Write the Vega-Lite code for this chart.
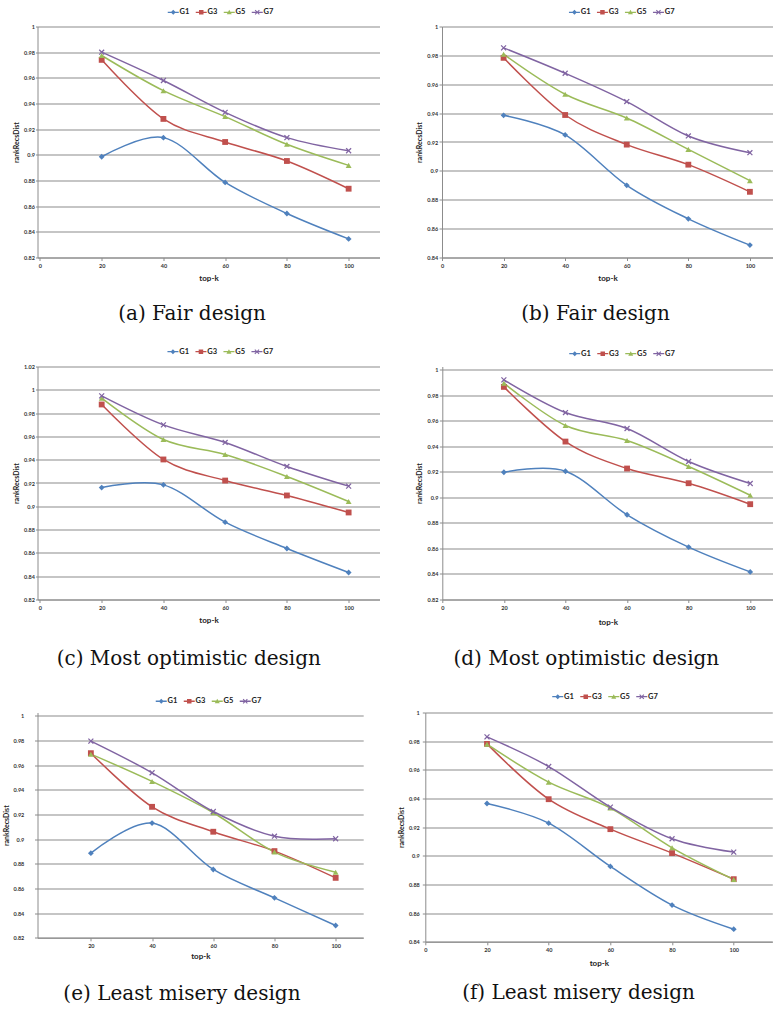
{
  "$schema": "https://vega.github.io/schema/vega-lite/v6.json",
  "padding": {"left": 1.5, "top": 7.5, "right": 0, "bottom": 0},
  "datasets": {
    "a": [
      {"k": 20, "s": "G1", "v": 0.8985}, {"k": 40, "s": "G1", "v": 0.9134}, {"k": 60, "s": "G1", "v": 0.8785}, {"k": 80, "s": "G1", "v": 0.8543}, {"k": 100, "s": "G1", "v": 0.8345},
      {"k": 20, "s": "G3", "v": 0.974}, {"k": 40, "s": "G3", "v": 0.928}, {"k": 60, "s": "G3", "v": 0.910}, {"k": 80, "s": "G3", "v": 0.8952}, {"k": 100, "s": "G3", "v": 0.8736},
      {"k": 20, "s": "G5", "v": 0.9774}, {"k": 40, "s": "G5", "v": 0.950}, {"k": 60, "s": "G5", "v": 0.9298}, {"k": 80, "s": "G5", "v": 0.9082}, {"k": 100, "s": "G5", "v": 0.8918},
      {"k": 20, "s": "G7", "v": 0.980}, {"k": 40, "s": "G7", "v": 0.9579}, {"k": 60, "s": "G7", "v": 0.9331}, {"k": 80, "s": "G7", "v": 0.9134}, {"k": 100, "s": "G7", "v": 0.9032}
    ],
    "b": [
      {"k": 20, "s": "G1", "v": 0.9385}, {"k": 40, "s": "G1", "v": 0.9249}, {"k": 60, "s": "G1", "v": 0.890}, {"k": 80, "s": "G1", "v": 0.8668}, {"k": 100, "s": "G1", "v": 0.8486},
      {"k": 20, "s": "G3", "v": 0.9783}, {"k": 40, "s": "G3", "v": 0.9387}, {"k": 60, "s": "G3", "v": 0.9182}, {"k": 80, "s": "G3", "v": 0.9043}, {"k": 100, "s": "G3", "v": 0.8855},
      {"k": 20, "s": "G5", "v": 0.9808}, {"k": 40, "s": "G5", "v": 0.9531}, {"k": 60, "s": "G5", "v": 0.9366}, {"k": 80, "s": "G5", "v": 0.9149}, {"k": 100, "s": "G5", "v": 0.8932},
      {"k": 20, "s": "G7", "v": 0.9852}, {"k": 40, "s": "G7", "v": 0.9676}, {"k": 60, "s": "G7", "v": 0.948}, {"k": 80, "s": "G7", "v": 0.9242}, {"k": 100, "s": "G7", "v": 0.9126}
    ],
    "c": [
      {"k": 20, "s": "G1", "v": 0.9161}, {"k": 40, "s": "G1", "v": 0.9184}, {"k": 60, "s": "G1", "v": 0.8864}, {"k": 80, "s": "G1", "v": 0.8638}, {"k": 100, "s": "G1", "v": 0.8432},
      {"k": 20, "s": "G3", "v": 0.9874}, {"k": 40, "s": "G3", "v": 0.9402}, {"k": 60, "s": "G3", "v": 0.9221}, {"k": 80, "s": "G3", "v": 0.9093}, {"k": 100, "s": "G3", "v": 0.8947},
      {"k": 20, "s": "G5", "v": 0.9928}, {"k": 40, "s": "G5", "v": 0.9573}, {"k": 60, "s": "G5", "v": 0.9445}, {"k": 80, "s": "G5", "v": 0.9256}, {"k": 100, "s": "G5", "v": 0.9041},
      {"k": 20, "s": "G7", "v": 0.9948}, {"k": 40, "s": "G7", "v": 0.9699}, {"k": 60, "s": "G7", "v": 0.9548}, {"k": 80, "s": "G7", "v": 0.9342}, {"k": 100, "s": "G7", "v": 0.9173}
    ],
    "d": [
      {"k": 20, "s": "G1", "v": 0.9196}, {"k": 40, "s": "G1", "v": 0.9204}, {"k": 60, "s": "G1", "v": 0.8863}, {"k": 80, "s": "G1", "v": 0.861}, {"k": 100, "s": "G1", "v": 0.8416},
      {"k": 20, "s": "G3", "v": 0.9864}, {"k": 40, "s": "G3", "v": 0.9436}, {"k": 60, "s": "G3", "v": 0.9225}, {"k": 80, "s": "G3", "v": 0.911}, {"k": 100, "s": "G3", "v": 0.8946},
      {"k": 20, "s": "G5", "v": 0.9893}, {"k": 40, "s": "G5", "v": 0.9562}, {"k": 60, "s": "G5", "v": 0.9444}, {"k": 80, "s": "G5", "v": 0.9241}, {"k": 100, "s": "G5", "v": 0.9016},
      {"k": 20, "s": "G7", "v": 0.9919}, {"k": 40, "s": "G7", "v": 0.9663}, {"k": 60, "s": "G7", "v": 0.9538}, {"k": 80, "s": "G7", "v": 0.928}, {"k": 100, "s": "G7", "v": 0.9108}
    ],
    "e": [
      {"k": 20, "s": "G1", "v": 0.8886}, {"k": 40, "s": "G1", "v": 0.913}, {"k": 60, "s": "G1", "v": 0.8754}, {"k": 80, "s": "G1", "v": 0.8524}, {"k": 100, "s": "G1", "v": 0.830},
      {"k": 20, "s": "G3", "v": 0.9697}, {"k": 40, "s": "G3", "v": 0.9262}, {"k": 60, "s": "G3", "v": 0.906}, {"k": 80, "s": "G3", "v": 0.8903}, {"k": 100, "s": "G3", "v": 0.8686},
      {"k": 20, "s": "G5", "v": 0.9689}, {"k": 40, "s": "G5", "v": 0.9468}, {"k": 60, "s": "G5", "v": 0.9214}, {"k": 80, "s": "G5", "v": 0.8895}, {"k": 100, "s": "G5", "v": 0.8732},
      {"k": 20, "s": "G7", "v": 0.9795}, {"k": 40, "s": "G7", "v": 0.9538}, {"k": 60, "s": "G7", "v": 0.9224}, {"k": 80, "s": "G7", "v": 0.9024}, {"k": 100, "s": "G7", "v": 0.9003}
    ],
    "f": [
      {"k": 20, "s": "G1", "v": 0.9365}, {"k": 40, "s": "G1", "v": 0.9228}, {"k": 60, "s": "G1", "v": 0.8926}, {"k": 80, "s": "G1", "v": 0.8656}, {"k": 100, "s": "G1", "v": 0.8488},
      {"k": 20, "s": "G3", "v": 0.9781}, {"k": 40, "s": "G3", "v": 0.9395}, {"k": 60, "s": "G3", "v": 0.9186}, {"k": 80, "s": "G3", "v": 0.9019}, {"k": 100, "s": "G3", "v": 0.8837},
      {"k": 20, "s": "G5", "v": 0.9779}, {"k": 40, "s": "G5", "v": 0.9514}, {"k": 60, "s": "G5", "v": 0.9333}, {"k": 80, "s": "G5", "v": 0.9056}, {"k": 100, "s": "G5", "v": 0.8835},
      {"k": 20, "s": "G7", "v": 0.983}, {"k": 40, "s": "G7", "v": 0.9623}, {"k": 60, "s": "G7", "v": 0.934}, {"k": 80, "s": "G7", "v": 0.9119}, {"k": 100, "s": "G7", "v": 0.9026}
    ]
  },
  "spacing": 23,
  "resolve": {"scale": {"color": "independent", "shape": "independent"}, "legend": {"color": "independent", "shape": "independent"}},
  "vconcat": [
    {
      "spacing": 35.5,
      "resolve": {"scale": {"color": "independent", "shape": "independent"}, "legend": {"color": "independent", "shape": "independent"}},
      "hconcat": [
        {
          "width": 342, "height": 231,
          "data": {"name": "a"},
          "title": {"text": "(a) Fair design", "dx": -16.5, "offset": 22},
          "encoding": {
            "x": {"field": "k", "type": "quantitative", "scale": {"domain": [-0.79, 110], "nice": false, "zero": false}, "axis": {"values": [0, 20, 40, 60, 80, 100], "title": "top-k", "titlePadding": 5}},
            "y": {"field": "v", "type": "quantitative", "scale": {"domain": [0.82, 1], "nice": false, "zero": false}, "axis": {"values": [0.82, 0.84, 0.86, 0.88, 0.9, 0.92, 0.94, 0.96, 0.98, 1], "format": ".2~f", "title": "rankRecsDist", "tickSize": 2, "labelPadding": 1, "titlePadding": 4.5}}
          },
          "layer": [
            {"mark": {"type": "line", "interpolate": "cardinal", "strokeWidth": 1.5}, "encoding": {"color": {"field": "s", "type": "nominal", "scale": {"domain": ["G1", "G3", "G5", "G7"], "range": ["#4F81BD", "#C0504D", "#9BBB59", "#8064A2"]}, "legend": null}}},
            {"mark": {"type": "point", "filled": true, "size": 34, "opacity": 1}, "encoding": {
              "color": {"field": "s", "type": "nominal", "scale": {"domain": ["G1", "G3", "G5", "G7"], "range": ["#4F81BD", "#C0504D", "#9BBB59", "#8064A2"]}, "legend": null},
              "shape": {"field": "s", "type": "nominal", "scale": {"domain": ["G1", "G3", "G5", "G7"], "range": ["diamond", "square", "triangle-up", "M-1,-0.7L-0.7,-1L0,-0.3L0.7,-1L1,-0.7L0.3,0L1,0.7L0.7,1L0,0.3L-0.7,1L-1,0.7L-0.3,0Z"]}, "legend": null}}},
            {"transform": [{"filter": "datum.k < -100"}], "mark": {"type": "point", "filled": true, "opacity": 1}, "encoding": {
              "color": {"field": "s", "type": "nominal", "scale": {"domain": ["G1", "G3", "G5", "G7"], "range": ["#4F81BD", "#C0504D", "#9BBB59", "#8064A2"]}, "legend": {"title": null, "orient": "none", "legendX": 132, "legendY": -18.3, "direction": "horizontal"}},
              "shape": {"field": "s", "type": "nominal", "scale": {"domain": ["G1", "G3", "G5", "G7"], "range": ["M-2.2,-0.28L2.2,-0.28L2.2,0.28L-2.2,0.28Z M0,-1L1,0L0,1L-1,0Z", "M-2.2,-0.28L2.2,-0.28L2.2,0.28L-2.2,0.28Z M-0.9,-0.9L0.9,-0.9L0.9,0.9L-0.9,0.9Z", "M-2.2,-0.28L2.2,-0.28L2.2,0.28L-2.2,0.28Z M0,-1L1,0.8L-1,0.8Z", "M-2.2,-0.28L2.2,-0.28L2.2,0.28L-2.2,0.28Z M-1,-0.7L-0.7,-1L0,-0.3L0.7,-1L1,-0.7L0.3,0L1,0.7L0.7,1L0,0.3L-0.7,1L-1,0.7L-0.3,0Z"]}, "legend": {"title": null, "orient": "none", "legendX": 132, "legendY": -18.3, "direction": "horizontal"}}}}
          ],
          "resolve": {"scale": {"color": "independent", "shape": "independent"}}
        },
        {
          "width": 331, "height": 231,
          "data": {"name": "b"},
          "title": {"text": "(b) Fair design", "dx": -12, "offset": 22},
          "encoding": {
            "x": {"field": "k", "type": "quantitative", "scale": {"domain": [0, 107.5], "nice": false, "zero": false}, "axis": {"values": [0, 20, 40, 60, 80, 100], "title": "top-k", "titlePadding": 5}},
            "y": {"field": "v", "type": "quantitative", "scale": {"domain": [0.84, 1], "nice": false, "zero": false}, "axis": {"values": [0.84, 0.86, 0.88, 0.9, 0.92, 0.94, 0.96, 0.98, 1], "format": ".2~f", "title": "rankRecsDist", "tickSize": 3, "labelPadding": 1.3, "titlePadding": 4.2}}
          },
          "layer": [
            {"mark": {"type": "line", "interpolate": "cardinal", "strokeWidth": 1.5}, "encoding": {"color": {"field": "s", "type": "nominal", "scale": {"domain": ["G1", "G3", "G5", "G7"], "range": ["#4F81BD", "#C0504D", "#9BBB59", "#8064A2"]}, "legend": null}}},
            {"mark": {"type": "point", "filled": true, "size": 34, "opacity": 1}, "encoding": {
              "color": {"field": "s", "type": "nominal", "scale": {"domain": ["G1", "G3", "G5", "G7"], "range": ["#4F81BD", "#C0504D", "#9BBB59", "#8064A2"]}, "legend": null},
              "shape": {"field": "s", "type": "nominal", "scale": {"domain": ["G1", "G3", "G5", "G7"], "range": ["diamond", "square", "triangle-up", "M-1,-0.7L-0.7,-1L0,-0.3L0.7,-1L1,-0.7L0.3,0L1,0.7L0.7,1L0,0.3L-0.7,1L-1,0.7L-0.3,0Z"]}, "legend": null}}},
            {"transform": [{"filter": "datum.k < -100"}], "mark": {"type": "point", "filled": true, "opacity": 1}, "encoding": {
              "color": {"field": "s", "type": "nominal", "scale": {"domain": ["G1", "G3", "G5", "G7"], "range": ["#4F81BD", "#C0504D", "#9BBB59", "#8064A2"]}, "legend": {"title": null, "orient": "none", "legendX": 128.7, "legendY": -18.3, "direction": "horizontal"}},
              "shape": {"field": "s", "type": "nominal", "scale": {"domain": ["G1", "G3", "G5", "G7"], "range": ["M-2.2,-0.28L2.2,-0.28L2.2,0.28L-2.2,0.28Z M0,-1L1,0L0,1L-1,0Z", "M-2.2,-0.28L2.2,-0.28L2.2,0.28L-2.2,0.28Z M-0.9,-0.9L0.9,-0.9L0.9,0.9L-0.9,0.9Z", "M-2.2,-0.28L2.2,-0.28L2.2,0.28L-2.2,0.28Z M0,-1L1,0.8L-1,0.8Z", "M-2.2,-0.28L2.2,-0.28L2.2,0.28L-2.2,0.28Z M-1,-0.7L-0.7,-1L0,-0.3L0.7,-1L1,-0.7L0.3,0L1,0.7L0.7,1L0,0.3L-0.7,1L-1,0.7L-0.3,0Z"]}, "legend": {"title": null, "orient": "none", "legendX": 128.7, "legendY": -18.3, "direction": "horizontal"}}}}
          ],
          "resolve": {"scale": {"color": "independent", "shape": "independent"}}
        }
      ]
    },
    {
      "spacing": 35.8,
      "resolve": {"scale": {"color": "independent", "shape": "independent"}, "legend": {"color": "independent", "shape": "independent"}},
      "hconcat": [
        {
          "width": 342, "height": 233,
          "data": {"name": "c"},
          "title": {"text": "(c) Most optimistic design", "dx": -19.7, "offset": 24.5},
          "encoding": {
            "x": {"field": "k", "type": "quantitative", "scale": {"domain": [-0.79, 110], "nice": false, "zero": false}, "axis": {"values": [0, 20, 40, 60, 80, 100], "title": "top-k", "titlePadding": 5.5}},
            "y": {"field": "v", "type": "quantitative", "scale": {"domain": [0.82, 1.02], "nice": false, "zero": false}, "axis": {"values": [0.82, 0.84, 0.86, 0.88, 0.9, 0.92, 0.94, 0.96, 0.98, 1, 1.02], "format": ".2~f", "title": "rankRecsDist", "tickSize": 2, "labelPadding": 1, "titlePadding": 4.5}}
          },
          "layer": [
            {"mark": {"type": "line", "interpolate": "cardinal", "strokeWidth": 1.5}, "encoding": {"color": {"field": "s", "type": "nominal", "scale": {"domain": ["G1", "G3", "G5", "G7"], "range": ["#4F81BD", "#C0504D", "#9BBB59", "#8064A2"]}, "legend": null}}},
            {"mark": {"type": "point", "filled": true, "size": 34, "opacity": 1}, "encoding": {
              "color": {"field": "s", "type": "nominal", "scale": {"domain": ["G1", "G3", "G5", "G7"], "range": ["#4F81BD", "#C0504D", "#9BBB59", "#8064A2"]}, "legend": null},
              "shape": {"field": "s", "type": "nominal", "scale": {"domain": ["G1", "G3", "G5", "G7"], "range": ["diamond", "square", "triangle-up", "M-1,-0.7L-0.7,-1L0,-0.3L0.7,-1L1,-0.7L0.3,0L1,0.7L0.7,1L0,0.3L-0.7,1L-1,0.7L-0.3,0Z"]}, "legend": null}}},
            {"transform": [{"filter": "datum.k < -100"}], "mark": {"type": "point", "filled": true, "opacity": 1}, "encoding": {
              "color": {"field": "s", "type": "nominal", "scale": {"domain": ["G1", "G3", "G5", "G7"], "range": ["#4F81BD", "#C0504D", "#9BBB59", "#8064A2"]}, "legend": {"title": null, "orient": "none", "legendX": 131.7, "legendY": -19, "direction": "horizontal"}},
              "shape": {"field": "s", "type": "nominal", "scale": {"domain": ["G1", "G3", "G5", "G7"], "range": ["M-2.2,-0.28L2.2,-0.28L2.2,0.28L-2.2,0.28Z M0,-1L1,0L0,1L-1,0Z", "M-2.2,-0.28L2.2,-0.28L2.2,0.28L-2.2,0.28Z M-0.9,-0.9L0.9,-0.9L0.9,0.9L-0.9,0.9Z", "M-2.2,-0.28L2.2,-0.28L2.2,0.28L-2.2,0.28Z M0,-1L1,0.8L-1,0.8Z", "M-2.2,-0.28L2.2,-0.28L2.2,0.28L-2.2,0.28Z M-1,-0.7L-0.7,-1L0,-0.3L0.7,-1L1,-0.7L0.3,0L1,0.7L0.7,1L0,0.3L-0.7,1L-1,0.7L-0.3,0Z"]}, "legend": {"title": null, "orient": "none", "legendX": 131.7, "legendY": -19, "direction": "horizontal"}}}}
          ],
          "resolve": {"scale": {"color": "independent", "shape": "independent"}}
        },
        {
          "width": 331, "height": 233,
          "data": {"name": "d"},
          "title": {"text": "(d) Most optimistic design", "dx": -21.5, "offset": 22.5},
          "encoding": {
            "x": {"field": "k", "type": "quantitative", "scale": {"domain": [0, 107.5], "nice": false, "zero": false}, "axis": {"values": [0, 20, 40, 60, 80, 100], "title": "top-k", "titlePadding": 7.5}},
            "y": {"field": "v", "type": "quantitative", "scale": {"domain": [0.82, 1.00235], "nice": false, "zero": false}, "axis": {"values": [0.82, 0.84, 0.86, 0.88, 0.9, 0.92, 0.94, 0.96, 0.98, 1], "format": ".2~f", "title": "rankRecsDist", "tickSize": 3, "labelPadding": 1.3, "titlePadding": 4.2}}
          },
          "layer": [
            {"mark": {"type": "line", "interpolate": "cardinal", "strokeWidth": 1.5}, "encoding": {"color": {"field": "s", "type": "nominal", "scale": {"domain": ["G1", "G3", "G5", "G7"], "range": ["#4F81BD", "#C0504D", "#9BBB59", "#8064A2"]}, "legend": null}}},
            {"mark": {"type": "point", "filled": true, "size": 34, "opacity": 1}, "encoding": {
              "color": {"field": "s", "type": "nominal", "scale": {"domain": ["G1", "G3", "G5", "G7"], "range": ["#4F81BD", "#C0504D", "#9BBB59", "#8064A2"]}, "legend": null},
              "shape": {"field": "s", "type": "nominal", "scale": {"domain": ["G1", "G3", "G5", "G7"], "range": ["diamond", "square", "triangle-up", "M-1,-0.7L-0.7,-1L0,-0.3L0.7,-1L1,-0.7L0.3,0L1,0.7L0.7,1L0,0.3L-0.7,1L-1,0.7L-0.3,0Z"]}, "legend": null}}},
            {"transform": [{"filter": "datum.k < -100"}], "mark": {"type": "point", "filled": true, "opacity": 1}, "encoding": {
              "color": {"field": "s", "type": "nominal", "scale": {"domain": ["G1", "G3", "G5", "G7"], "range": ["#4F81BD", "#C0504D", "#9BBB59", "#8064A2"]}, "legend": {"title": null, "orient": "none", "legendX": 128.7, "legendY": -17, "direction": "horizontal"}},
              "shape": {"field": "s", "type": "nominal", "scale": {"domain": ["G1", "G3", "G5", "G7"], "range": ["M-2.2,-0.28L2.2,-0.28L2.2,0.28L-2.2,0.28Z M0,-1L1,0L0,1L-1,0Z", "M-2.2,-0.28L2.2,-0.28L2.2,0.28L-2.2,0.28Z M-0.9,-0.9L0.9,-0.9L0.9,0.9L-0.9,0.9Z", "M-2.2,-0.28L2.2,-0.28L2.2,0.28L-2.2,0.28Z M0,-1L1,0.8L-1,0.8Z", "M-2.2,-0.28L2.2,-0.28L2.2,0.28L-2.2,0.28Z M-1,-0.7L-0.7,-1L0,-0.3L0.7,-1L1,-0.7L0.3,0L1,0.7L0.7,1L0,0.3L-0.7,1L-1,0.7L-0.3,0Z"]}, "legend": {"title": null, "orient": "none", "legendX": 128.7, "legendY": -17, "direction": "horizontal"}}}}
          ],
          "resolve": {"scale": {"color": "independent", "shape": "independent"}}
        }
      ]
    },
    {
      "spacing": 33.8,
      "resolve": {"scale": {"color": "independent", "shape": "independent"}, "legend": {"color": "independent", "shape": "independent"}},
      "hconcat": [
        {
          "width": 325.7, "height": 225.3,
          "data": {"name": "e"},
          "title": {"text": "(e) Least misery design", "dx": -18.4, "offset": 23},
          "encoding": {
            "x": {"field": "k", "type": "quantitative", "scale": {"domain": [2.56, 109], "nice": false, "zero": false}, "axis": {"values": [20, 40, 60, 80, 100], "title": "top-k", "titlePadding": 3.5}},
            "y": {"field": "v", "type": "quantitative", "scale": {"domain": [0.82, 1.00268], "nice": false, "zero": false}, "axis": {"values": [0.82, 0.84, 0.86, 0.88, 0.9, 0.92, 0.94, 0.96, 0.98, 1], "format": ".2~f", "title": "rankRecsDist", "tickSize": 3, "labelPadding": 10.7, "titlePadding": 3.8}}
          },
          "layer": [
            {"mark": {"type": "line", "interpolate": "cardinal", "strokeWidth": 1.5}, "encoding": {"color": {"field": "s", "type": "nominal", "scale": {"domain": ["G1", "G3", "G5", "G7"], "range": ["#4F81BD", "#C0504D", "#9BBB59", "#8064A2"]}, "legend": null}}},
            {"mark": {"type": "point", "filled": true, "size": 34, "opacity": 1}, "encoding": {
              "color": {"field": "s", "type": "nominal", "scale": {"domain": ["G1", "G3", "G5", "G7"], "range": ["#4F81BD", "#C0504D", "#9BBB59", "#8064A2"]}, "legend": null},
              "shape": {"field": "s", "type": "nominal", "scale": {"domain": ["G1", "G3", "G5", "G7"], "range": ["diamond", "square", "triangle-up", "M-1,-0.7L-0.7,-1L0,-0.3L0.7,-1L1,-0.7L0.3,0L1,0.7L0.7,1L0,0.3L-0.7,1L-1,0.7L-0.3,0Z"]}, "legend": null}}},
            {"transform": [{"filter": "datum.k < -100"}], "mark": {"type": "point", "filled": true, "opacity": 1}, "encoding": {
              "color": {"field": "s", "type": "nominal", "scale": {"domain": ["G1", "G3", "G5", "G7"], "range": ["#4F81BD", "#C0504D", "#9BBB59", "#8064A2"]}, "legend": {"title": null, "orient": "none", "legendX": 120, "legendY": -15.4, "direction": "horizontal"}},
              "shape": {"field": "s", "type": "nominal", "scale": {"domain": ["G1", "G3", "G5", "G7"], "range": ["M-2.2,-0.28L2.2,-0.28L2.2,0.28L-2.2,0.28Z M0,-1L1,0L0,1L-1,0Z", "M-2.2,-0.28L2.2,-0.28L2.2,0.28L-2.2,0.28Z M-0.9,-0.9L0.9,-0.9L0.9,0.9L-0.9,0.9Z", "M-2.2,-0.28L2.2,-0.28L2.2,0.28L-2.2,0.28Z M0,-1L1,0.8L-1,0.8Z", "M-2.2,-0.28L2.2,-0.28L2.2,0.28L-2.2,0.28Z M-1,-0.7L-0.7,-1L0,-0.3L0.7,-1L1,-0.7L0.3,0L1,0.7L0.7,1L0,0.3L-0.7,1L-1,0.7L-0.3,0Z"]}, "legend": {"title": null, "orient": "none", "legendX": 120, "legendY": -15.4, "direction": "horizontal"}}}}
          ],
          "resolve": {"scale": {"color": "independent", "shape": "independent"}}
        },
        {
          "width": 347, "height": 229.3,
          "data": {"name": "f"},
          "title": {"text": "(f) Least misery design", "dx": -20.3, "offset": 16},
          "encoding": {
            "x": {"field": "k", "type": "quantitative", "scale": {"domain": [0, 112.5], "nice": false, "zero": false}, "axis": {"values": [0, 20, 40, 60, 80, 100], "title": "top-k", "titlePadding": 6}},
            "y": {"field": "v", "type": "quantitative", "scale": {"domain": [0.84, 1], "nice": false, "zero": false}, "axis": {"values": [0.84, 0.86, 0.88, 0.9, 0.92, 0.94, 0.96, 0.98, 1], "format": ".2~f", "title": "rankRecsDist", "tickSize": 3, "labelPadding": 3, "titlePadding": 3.8}}
          },
          "layer": [
            {"mark": {"type": "line", "interpolate": "cardinal", "strokeWidth": 1.5}, "encoding": {"color": {"field": "s", "type": "nominal", "scale": {"domain": ["G1", "G3", "G5", "G7"], "range": ["#4F81BD", "#C0504D", "#9BBB59", "#8064A2"]}, "legend": null}}},
            {"mark": {"type": "point", "filled": true, "size": 34, "opacity": 1}, "encoding": {
              "color": {"field": "s", "type": "nominal", "scale": {"domain": ["G1", "G3", "G5", "G7"], "range": ["#4F81BD", "#C0504D", "#9BBB59", "#8064A2"]}, "legend": null},
              "shape": {"field": "s", "type": "nominal", "scale": {"domain": ["G1", "G3", "G5", "G7"], "range": ["diamond", "square", "triangle-up", "M-1,-0.7L-0.7,-1L0,-0.3L0.7,-1L1,-0.7L0.3,0L1,0.7L0.7,1L0,0.3L-0.7,1L-1,0.7L-0.3,0Z"]}, "legend": null}}},
            {"transform": [{"filter": "datum.k < -100"}], "mark": {"type": "point", "filled": true, "opacity": 1}, "encoding": {
              "color": {"field": "s", "type": "nominal", "scale": {"domain": ["G1", "G3", "G5", "G7"], "range": ["#4F81BD", "#C0504D", "#9BBB59", "#8064A2"]}, "legend": {"title": null, "orient": "none", "legendX": 128.7, "legendY": -20, "direction": "horizontal"}},
              "shape": {"field": "s", "type": "nominal", "scale": {"domain": ["G1", "G3", "G5", "G7"], "range": ["M-2.2,-0.28L2.2,-0.28L2.2,0.28L-2.2,0.28Z M0,-1L1,0L0,1L-1,0Z", "M-2.2,-0.28L2.2,-0.28L2.2,0.28L-2.2,0.28Z M-0.9,-0.9L0.9,-0.9L0.9,0.9L-0.9,0.9Z", "M-2.2,-0.28L2.2,-0.28L2.2,0.28L-2.2,0.28Z M0,-1L1,0.8L-1,0.8Z", "M-2.2,-0.28L2.2,-0.28L2.2,0.28L-2.2,0.28Z M-1,-0.7L-0.7,-1L0,-0.3L0.7,-1L1,-0.7L0.3,0L1,0.7L0.7,1L0,0.3L-0.7,1L-1,0.7L-0.3,0Z"]}, "legend": {"title": null, "orient": "none", "legendX": 128.7, "legendY": -20, "direction": "horizontal"}}}}
          ],
          "resolve": {"scale": {"color": "independent", "shape": "independent"}}
        }
      ]
    }
  ],
  "config": {
    "view": {"stroke": null},
    "axis": {"labelFont": "Lato", "labelFontWeight": "bold", "labelFontSize": 5.5, "labelColor": "#333333", "titleFont": "Lato", "titleFontWeight": "bold", "titleColor": "#222222", "domainColor": "#8c8c8c", "tickColor": "#8c8c8c", "gridColor": "#8c8c8c", "domainWidth": 1, "tickWidth": 1, "gridWidth": 1.2, "labelFlush": false, "labelOverlap": false},
    "axisX": {"grid": false, "titleFontSize": 8, "tickSize": 3, "labelPadding": 3, "titlePadding": 6.5},
    "axisY": {"grid": true, "titleFontSize": 7},
    "legend": {"padding": 0, "symbolSize": 25, "symbolStrokeWidth": 0, "labelFont": "Lato", "labelFontWeight": "bold", "labelFontSize": 7.5, "labelColor": "#222222", "labelOffset": 2.5, "columnPadding": 6},
    "title": {"font": "DejaVu Serif", "fontSize": 20, "fontWeight": "normal", "color": "#111111", "orient": "bottom", "frame": "group", "anchor": "middle"}
  }
}
